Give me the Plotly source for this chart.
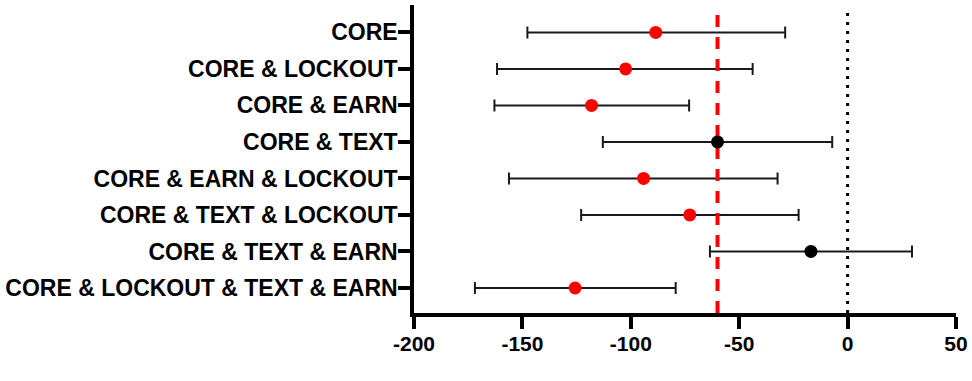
import plotly.graph_objects as go

categories = [
    "CORE",
    "CORE & LOCKOUT",
    "CORE & EARN",
    "CORE & TEXT",
    "CORE & EARN & LOCKOUT",
    "CORE & TEXT & LOCKOUT",
    "CORE & TEXT & EARN",
    "CORE & LOCKOUT & TEXT & EARN",
]
mean_diff = [-88.5, -102.4, -118.1, -60.0, -94.1, -72.8, -16.9, -125.7]
ci_low = [-147.7, -161.7, -162.9, -112.9, -156.2, -122.9, -63.5, -171.9]
ci_high = [-28.8, -43.8, -73.1, -7.1, -32.3, -22.6, 29.7, -79.3]
significant = [True, True, True, False, True, True, False, True]
reference_value = -60
zero_value = 0
x_ticks = [-200, -150, -100, -50, 0, 50]

y_pos = list(range(len(categories)))
err_plus = [h - m for h, m in zip(ci_high, mean_diff)]
err_minus = [m - l for m, l in zip(mean_diff, ci_low)]
colors = ["#FF0000" if s else "#000000" for s in significant]

y_range = [len(categories) - 1 + 0.685, -0.75]
FONT = "Arial, Liberation Sans, sans-serif"

fig = go.Figure()

# error bars
fig.add_trace(go.Scatter(
    x=mean_diff, y=y_pos, mode="markers",
    marker=dict(size=1, color="rgba(0,0,0,0)"),
    error_x=dict(type="data", symmetric=False, array=err_plus, arrayminus=err_minus,
                 color="#1a1a1a", thickness=2, width=6),
    hoverinfo="skip", showlegend=False,
))

# reference (dashed red) line
fig.add_trace(go.Scatter(
    x=[reference_value, reference_value], y=y_range, mode="lines",
    line=dict(color="#FF0000", width=4, dash="12px,10px"),
    hoverinfo="skip", showlegend=False,
))

# points
fig.add_trace(go.Scatter(
    x=mean_diff, y=y_pos, mode="markers",
    marker=dict(size=13, color=colors, line=dict(width=0)),
    showlegend=False,
))

# zero dotted line
fig.add_shape(type="line", xref="x", yref="paper", x0=zero_value, x1=zero_value,
              y0=0, y1=0.99, line=dict(color="#000000", width=3, dash="3px,6px"),
              layer="below")

fig.update_layout(
    width=972, height=381,
    margin=dict(l=414, r=16, t=5, b=68, autoexpand=False),
    paper_bgcolor="white", plot_bgcolor="white",
    font=dict(family=FONT, color="black"),
    showlegend=False,
)
fig.update_xaxes(
    range=[-200, 50], tickvals=x_ticks, ticktext=[str(v) for v in x_ticks],
    showgrid=False, zeroline=False, automargin=False,
    showline=True, linecolor="black", linewidth=3.5,
    ticks="outside", ticklen=12, tickwidth=3.5, tickcolor="black",
    ticklabelstandoff=-3,
    tickfont=dict(family=FONT, size=21, color="black", weight="bold"),
)
fig.update_yaxes(
    range=y_range, tickvals=y_pos, ticktext=categories,
    showgrid=False, zeroline=False, automargin=False,
    showline=True, linecolor="black", linewidth=3.5,
    ticks="outside", ticklen=12, tickwidth=3.5, tickcolor="black",
    ticklabelstandoff=-4,
    tickfont=dict(family=FONT, size=23, color="black", weight="bold"),
)

fig.write_html("out.html",
               config={"displayModeBar": False},
               post_script="document.body.style.margin='0px';document.body.style.overflow='hidden';")
